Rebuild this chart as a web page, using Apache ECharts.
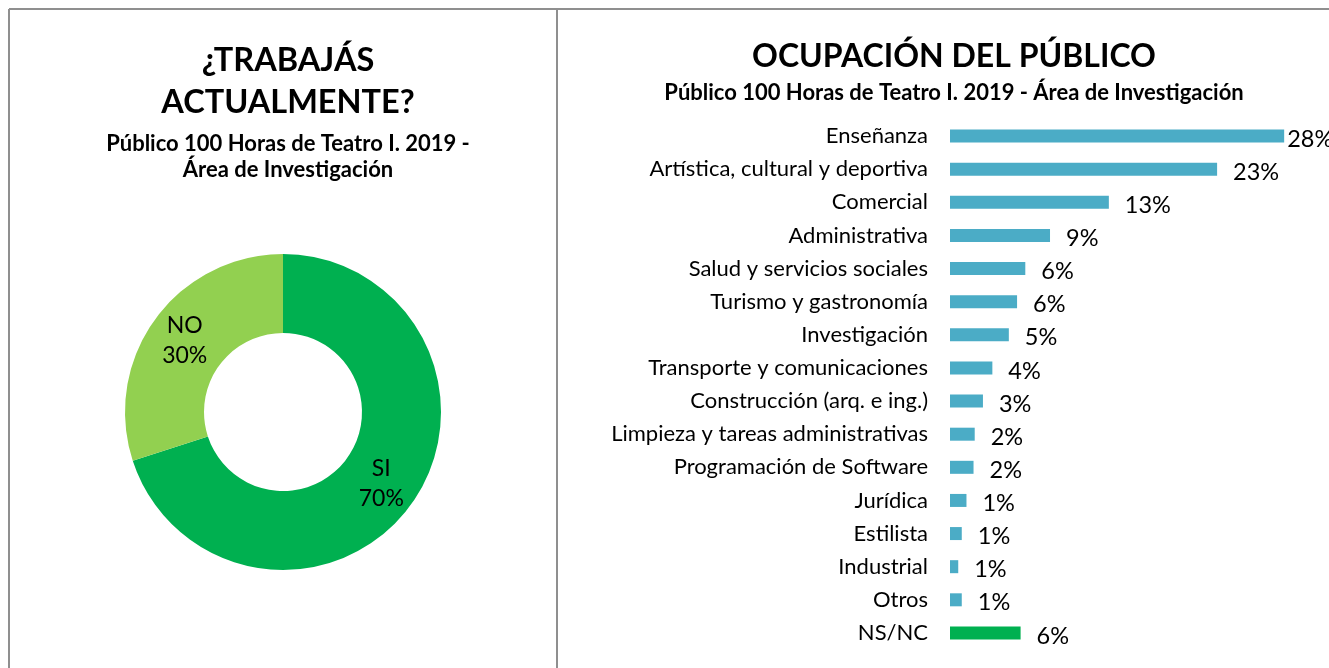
<!DOCTYPE html>
<html>
<head>
<meta charset="utf-8">
<script src="https://cdn.jsdelivr.net/npm/echarts@6/dist/echarts.min.js"></script>
<style>
  html, body { margin: 0; padding: 0; background: #fff; }
  #chart { width: 1329px; height: 668px; }
</style>
</head>
<body>
<div id="chart"></div>
<script>
// donut: ¿trabajás actualmente?
const workNames = ['SI', 'NO'];
const workValues = [70, 30];

// bars: ocupación del público (lengths, labels as printed)
const jobs = [
  'Enseñanza', 'Artística, cultural y deportiva', 'Comercial', 'Administrativa',
  'Salud y servicios sociales', 'Turismo y gastronomía', 'Investigación',
  'Transporte y comunicaciones', 'Construcción (arq. e ing.)',
  'Limpieza y tareas administrativas', 'Programación de Software', 'Jurídica',
  'Estilista', 'Industrial', 'Otros', 'NS/NC'
];
const jobValues = [28.4, 22.7, 13.5, 8.5, 6.4, 5.7, 5.0, 3.6, 2.8, 2.1, 2.0, 1.4, 1.0, 0.7, 1.0, 6.0];
const jobLabels = ['28%', '23%', '13%', '9%', '6%', '6%', '5%', '4%', '3%', '2%', '2%', '1%', '1%', '1%', '1%', '6%'];

const FONT = 'Lato';
const BLUE = '#4BACC6';
const GREEN = '#00B050';
const LIGHT_GREEN = '#92D050';
const BORDER = '#8f8f8f';

const chart = echarts.init(document.getElementById('chart'));

chart.setOption({
  animation: false,
  textStyle: { fontFamily: FONT, color: '#000' },
  title: [
    {
      text: '¿TRABAJÁS\nACTUALMENTE?',
      left: 283, top: 35, textAlign: 'center',
      textStyle: { fontFamily: FONT, fontSize: 32.5, fontWeight: 'bold', lineHeight: 42, color: '#000' }
    },
    {
      text: 'Público 100 Horas de Teatro I. 2019 -\nÁrea de Investigación',
      left: 283, top: 126, textAlign: 'center',
      textStyle: { fontFamily: FONT, fontSize: 22, fontWeight: 'bold', lineHeight: 26, color: '#000' }
    },
    {
      text: 'OCUPACIÓN DEL PÚBLICO',
      left: 949, top: 36, textAlign: 'center',
      textStyle: { fontFamily: FONT, fontSize: 32, fontWeight: 'bold', color: '#000' }
    },
    {
      text: 'Público 100 Horas de Teatro I. 2019 - Área de Investigación',
      left: 949, top: 77, textAlign: 'center',
      textStyle: { fontFamily: FONT, fontSize: 22, fontWeight: 'bold', color: '#000' }
    }
  ],
  graphic: [
    { type: 'line', shape: { x1: 9, y1: 9, x2: 1329, y2: 9 }, style: { stroke: BORDER, lineWidth: 2 } },
    { type: 'line', shape: { x1: 9, y1: 9, x2: 9, y2: 668 }, style: { stroke: BORDER, lineWidth: 2 } },
    { type: 'line', shape: { x1: 557, y1: 9, x2: 557, y2: 668 }, style: { stroke: BORDER, lineWidth: 2 } }
  ],
  grid: { left: 950, top: 119.5, width: 353, height: 530 },
  xAxis: {
    type: 'value', min: 0, max: 30, show: false
  },
  yAxis: {
    type: 'category',
    data: jobs,
    inverse: true,
    axisLine: { show: false },
    axisTick: { show: false },
    axisLabel: { fontFamily: FONT, fontSize: 22, color: '#000', margin: 22 }
  },
  series: [
    {
      type: 'pie',
      center: [283, 412],
      radius: [79, 158],
      startAngle: 90,
      clockwise: true,
      label: {
        position: 'inside',
        formatter: '{b}\n{d}%',
        fontFamily: FONT, fontSize: 23, lineHeight: 30, color: '#000'
      },
      labelLine: { show: false },
      emphasis: { disabled: true },
      data: workNames.map((n, i) => ({
        name: n, value: workValues[i],
        itemStyle: { color: i === 0 ? GREEN : LIGHT_GREEN }
      }))
    },
    {
      type: 'bar',
      barWidth: 13,
      data: jobValues.map((v, i) => ({
        value: v,
        itemStyle: { color: i === jobValues.length - 1 ? GREEN : BLUE },
        label: i === 0 ? { distance: 3 } : undefined
      })),
      label: {
        show: true,
        position: 'right',
        distance: 16,
        offset: [0, 3],
        fontFamily: FONT, fontSize: 23.5, color: '#000',
        formatter: (p) => jobLabels[p.dataIndex]
      },
      emphasis: { disabled: true }
    }
  ]
});
</script>
</body>
</html>
